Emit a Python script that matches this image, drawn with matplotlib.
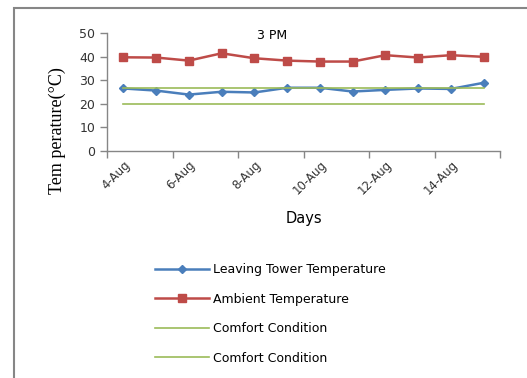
import numpy as np
import matplotlib
matplotlib.use('Agg')
from matplotlib import pyplot as plt
from matplotlib.patches import Rectangle

days = ['4-Aug', '5-Aug', '6-Aug', '7-Aug', '8-Aug', '9-Aug',
        '10-Aug', '11-Aug', '12-Aug', '13-Aug', '14-Aug', '15-Aug']
leaving_tower = [26.5, 25.6, 23.9, 25.1, 24.8, 26.8, 26.8, 25.2, 25.9, 26.5, 26.3, 28.9]
ambient = [39.7, 39.6, 38.3, 41.4, 39.3, 38.3, 37.9, 37.9, 40.6, 39.6, 40.6, 39.9]
comfort_upper = [26.5] * len(days)
comfort_lower = [20.0] * len(days)
yticks = [0, 10, 20, 30, 40, 50]

blue = '#4a7ebb'
red = '#be4b48'
green = '#9bbb59'
axisgray = '#868686'

fig = plt.figure(figsize=(5.27, 3.78), dpi=100)
ax = fig.add_axes([107 / 527, 1 - 151 / 378, 393 / 527, 118 / 378])

x = np.arange(len(days))
ax.plot(x, leaving_tower, color=blue, lw=1.8, marker='D', ms=4, label='Leaving Tower Temperature')
ax.plot(x, ambient, color=red, lw=1.8, marker='s', ms=5.5, label='Ambient Temperature')
ax.plot(x, comfort_upper, color=green, lw=1.2, label='Comfort Condition')
ax.plot(x, comfort_lower, color=green, lw=1.2, label='Comfort Condition')

ax.set_xlim(-0.5, len(days) - 0.5)
ax.set_ylim(yticks[0], yticks[-1])
ax.set_yticks(yticks)
ax.set_yticklabels([str(t) for t in yticks], fontsize=9, color='#333333')

# category axis: tick marks between every 2 days, labels on every other day
ax.set_xticks(np.arange(-0.5, len(days), 2))
ax.set_xticklabels([])
ax.set_xticks(x[::2], minor=True)
ax.set_xticklabels(days[::2], minor=True, rotation=45, ha='right',
                   rotation_mode='anchor', fontsize=8.5, color='#333333')
ax.tick_params(axis='x', which='minor', length=0, pad=5)
ax.tick_params(axis='both', which='major', length=5, color=axisgray, width=1)

for side in ['top', 'right']:
    ax.spines[side].set_visible(False)
for side in ['left', 'bottom']:
    ax.spines[side].set_color(axisgray)
    ax.spines[side].set_linewidth(1)

ax.text(0.42, 1.03, '3 PM', transform=ax.transAxes, ha='center', va='top', fontsize=9)
ax.set_xlabel('Days', fontsize=10.5, labelpad=10)
fig.text(57 / 527, 1 - 131 / 378, 'Tem perature(°C)', rotation=90, ha='center', va='center',
         family='Liberation Serif', fontsize=13)

fig.legend(loc='upper left', bbox_to_anchor=(144 / 527, 1 - 252 / 378), frameon=False,
           fontsize=9, handlelength=4.3, handletextpad=0.35, labelspacing=1.32)

fig.patches.append(Rectangle((13.5 / 527, -0.2), 1.5, 1.2 - 7.5 / 378, transform=fig.transFigure,
                             fill=False, edgecolor=axisgray, lw=1.5))

fig.savefig('out.png', dpi=100)
